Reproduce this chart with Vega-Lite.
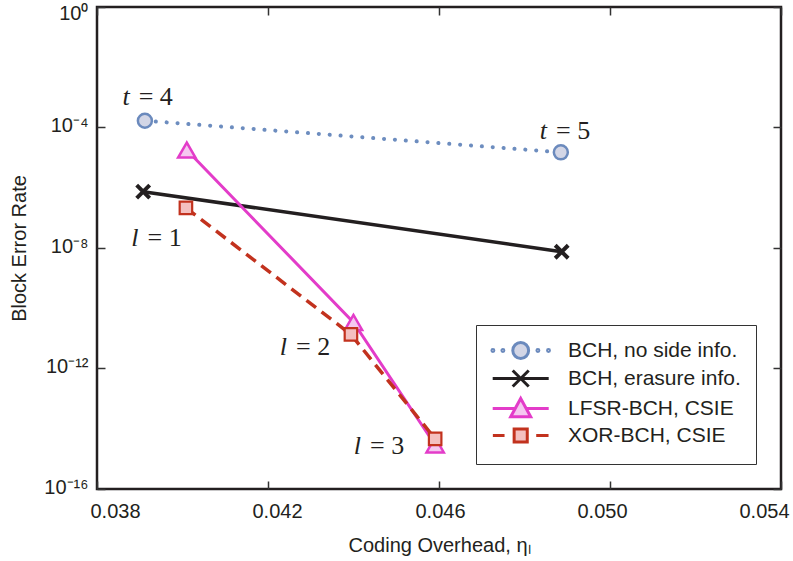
{
  "$schema": "https://vega.github.io/schema/vega-lite/v6.json",
  "width": 684,
  "height": 482,
  "autosize": {"type": "none"},
  "padding": {"left": 97, "top": 7, "right": 12, "bottom": 72},
  "background": "white",
  "datasets": {
    "points": [
      {"series": "BCH, no side info.", "x": 0.03912, "y": 1.68e-4},
      {"series": "BCH, no side info.", "x": 0.04885, "y": 1.5e-5},
      {"series": "BCH, erasure info.", "x": 0.03908, "y": 7.4e-7},
      {"series": "BCH, erasure info.", "x": 0.04887, "y": 7.5e-9},
      {"series": "LFSR-BCH, CSIE", "x": 0.0401, "y": 1.79e-5},
      {"series": "LFSR-BCH, CSIE", "x": 0.044, "y": 3.37e-11},
      {"series": "LFSR-BCH, CSIE", "x": 0.04591, "y": 2.89e-15},
      {"series": "XOR-BCH, CSIE", "x": 0.04008, "y": 2.16e-7},
      {"series": "XOR-BCH, CSIE", "x": 0.04394, "y": 1.35e-11},
      {"series": "XOR-BCH, CSIE", "x": 0.04591, "y": 4.63e-15}
    ],
    "labels": [
      {"x": 0.038858, "y": 1e-3, "v": "t", "r": "= 4"},
      {"x": 0.04862, "y": 7.9e-5, "v": "t", "r": "= 5"},
      {"x": 0.039064, "y": 2.15e-8, "v": "l", "r": "= 1"},
      {"x": 0.042538, "y": 5.0e-12, "v": "l", "r": "= 2"},
      {"x": 0.044269, "y": 2.61e-15, "v": "l", "r": "= 3"}
    ]
  },
  "config": {
    "view": {"stroke": "#231f20", "strokeWidth": 2.5},
    "axis": {
      "domain": false, "grid": false, "tickSize": -8, "tickColor": "#333333", "tickWidth": 1.5,
      "labelFont": "Liberation Sans", "labelFontSize": 20, "labelColor": "#231f20",
      "titleFont": "Liberation Sans", "titleFontSize": 20, "titleFontWeight": "normal", "titleColor": "#231f20"
    }
  },
  "resolve": {"axis": {"x": "independent", "y": "independent"}},
  "layer": [
    {
      "data": {"name": "points"},
      "encoding": {
        "x": {
          "field": "x", "type": "quantitative",
          "scale": {"domain": [0.038, 0.054], "nice": false, "zero": false},
          "axis": {
            "orient": "bottom", "values": [0.038, 0.042, 0.046, 0.050, 0.054], "format": ".3f",
            "labelFlush": false, "labelPadding": 20, "titlePadding": 14,
            "title": "Coding Overhead, ηₗ",
            "labelOffset": {"condition": [
              {"test": "datum.value < 0.040", "value": 18},
              {"test": "datum.value < 0.044", "value": 9},
              {"test": "datum.value > 0.052", "value": -17},
              {"test": "datum.value > 0.048", "value": -8}
            ], "value": 1}
          }
        },
        "y": {
          "field": "y", "type": "quantitative",
          "scale": {"type": "log", "domain": [1e-16, 1], "nice": false},
          "axis": {
            "orient": "left", "values": [1, 1e-4, 1e-8, 1e-12, 1e-16],
            "labelExpr": "datum.value >= 0.5 ? '10⁰' : datum.value > 1e-6 ? '10⁻⁴' : datum.value > 1e-10 ? '10⁻⁸' : datum.value > 1e-14 ? '10⁻¹²' : '10⁻¹⁶'",
            "labelPadding": 17, "titlePadding": 14, "title": "Block Error Rate",
            "labelOffset": {"condition": {"test": "datum.value >= 0.5", "value": 6}, "value": -2}
          }
        }
      },
      "layer": [
        {"transform": [{"filter": "datum.series == 'BCH, no side info.'"}],
         "mark": {"type": "line", "stroke": "#6d8dbf", "strokeWidth": 4, "strokeDash": [0.1, 10.8], "strokeCap": "round"}},
        {"transform": [{"filter": "datum.series == 'BCH, no side info.'"}],
         "mark": {"type": "point", "shape": "circle", "size": 196, "fill": "#d3d6e6", "stroke": "#6b8abd", "strokeWidth": 2.5, "opacity": 1, "fillOpacity": 1}},
        {"transform": [{"filter": "datum.series == 'BCH, erasure info.'"}],
         "mark": {"type": "line", "stroke": "#231f20", "strokeWidth": 3.5}},
        {"transform": [{"filter": "datum.series == 'BCH, erasure info.'"}],
         "mark": {"type": "point", "shape": "M-1,-1L1,1M-1,1L1,-1", "size": 169, "filled": false, "stroke": "#231f20", "strokeWidth": 4, "opacity": 1}},
        {"transform": [{"filter": "datum.series == 'LFSR-BCH, CSIE'"}],
         "mark": {"type": "line", "stroke": "#e33cc9", "strokeWidth": 3}},
        {"transform": [{"filter": "datum.series == 'LFSR-BCH, CSIE'"}],
         "mark": {"type": "point", "shape": "triangle-up", "size": 300, "fill": "#f5c8f0", "stroke": "#e33cc9", "strokeWidth": 2.5, "opacity": 1, "fillOpacity": 1}},
        {"transform": [{"filter": "datum.series == 'XOR-BCH, CSIE'"}],
         "mark": {"type": "line", "stroke": "#c2321e", "strokeWidth": 3.5, "strokeDash": [12, 7]}},
        {"transform": [{"filter": "datum.series == 'XOR-BCH, CSIE'"}],
         "mark": {"type": "point", "shape": "square", "size": 156, "fill": "#f4c0c0", "stroke": "#c2321e", "strokeWidth": 2.2, "opacity": 1, "fillOpacity": 1}},
        {"data": {"name": "labels"},
         "mark": {"type": "text", "font": "Liberation Serif", "fontSize": 26, "fontStyle": "italic", "align": "right", "baseline": "middle", "dx": -4, "color": "#231f20"},
         "encoding": {"text": {"field": "v"}}},
        {"data": {"name": "labels"},
         "mark": {"type": "text", "font": "Liberation Serif", "fontSize": 26, "align": "left", "baseline": "middle", "dx": 5, "color": "#231f20"},
         "encoding": {"text": {"field": "r"}}}
      ]
    },
    {
      "data": {"name": "points"},
      "transform": [{"filter": "false"}],
      "mark": {"type": "point", "opacity": 1, "size": 256, "strokeWidth": 3},
      "encoding": {
        "x": {"field": "x", "type": "quantitative", "scale": {"domain": [0.038, 0.054], "nice": false, "zero": false},
              "axis": {"orient": "top", "labels": false, "title": null, "values": [0.038, 0.042, 0.046, 0.050, 0.054]}},
        "y": {"field": "y", "type": "quantitative", "scale": {"type": "log", "domain": [1e-16, 1], "nice": false},
              "axis": {"orient": "right", "labels": false, "title": null, "values": [1, 1e-4, 1e-8, 1e-12, 1e-16]}},
        "shape": {"field": "series", "type": "nominal",
          "scale": {"domain": ["BCH, no side info.", "BCH, erasure info.", "LFSR-BCH, CSIE", "XOR-BCH, CSIE"],
                    "range": [
                      "M-1.195,0a0.12,0.12 0 1,0 0.24,0a0.12,0.12 0 1,0 -0.24,0M0.055,0a0.12,0.12 0 1,0 0.24,0a0.12,0.12 0 1,0 -0.24,0M4.43,0a0.12,0.12 0 1,0 0.24,0a0.12,0.12 0 1,0 -0.24,0M5.755,0a0.12,0.12 0 1,0 0.24,0a0.12,0.12 0 1,0 -0.24,0M1.41,0a0.99,0.99 0 1,0 1.98,0a0.99,0.99 0 1,0 -1.98,0",
                      "M-1.1,0H5.9M1.4,-1L3.4,1M1.4,1L3.4,-1",
                      "M-1.1,0H1.72M3.08,0H5.9M2.4,-1.25L3.65,1.04L1.15,1.04Z",
                      "M-1.08,0H0.38M4.34,0H5.88M1.58,-0.82H3.22V0.82H1.58Z"
                    ]},
          "legend": {"title": null, "orient": "none", "legendX": 379, "legendY": 318, "strokeColor": "#333333", "fillColor": "white", "padding": 15, "rowPadding": -1, "labelFont": "Liberation Sans", "labelFontSize": 21, "labelColor": "#231f20", "labelOffset": 56, "symbolSize": 256, "symbolStrokeWidth": 3, "labelLimit": 0}},
        "stroke": {"field": "series", "type": "nominal",
          "scale": {"domain": ["BCH, no side info.", "BCH, erasure info.", "LFSR-BCH, CSIE", "XOR-BCH, CSIE"],
                    "range": ["#6b8abd", "#231f20", "#e33cc9", "#c2321e"]},
          "legend": {"title": null, "orient": "none", "legendX": 379, "legendY": 318, "strokeColor": "#333333", "fillColor": "white", "padding": 15, "rowPadding": -1, "labelFont": "Liberation Sans", "labelFontSize": 21, "labelColor": "#231f20", "labelOffset": 56, "symbolSize": 256, "symbolStrokeWidth": 3, "labelLimit": 0}},
        "fill": {"field": "series", "type": "nominal",
          "scale": {"domain": ["BCH, no side info.", "BCH, erasure info.", "LFSR-BCH, CSIE", "XOR-BCH, CSIE"],
                    "range": ["#d3d6e6", "#231f20", "#f5c8f0", "#f4c0c0"]},
          "legend": {"title": null, "orient": "none", "legendX": 379, "legendY": 318, "strokeColor": "#333333", "fillColor": "white", "padding": 15, "rowPadding": -1, "labelFont": "Liberation Sans", "labelFontSize": 21, "labelColor": "#231f20", "labelOffset": 56, "symbolSize": 256, "symbolStrokeWidth": 3, "labelLimit": 0}}
      }
    }
  ]
}
